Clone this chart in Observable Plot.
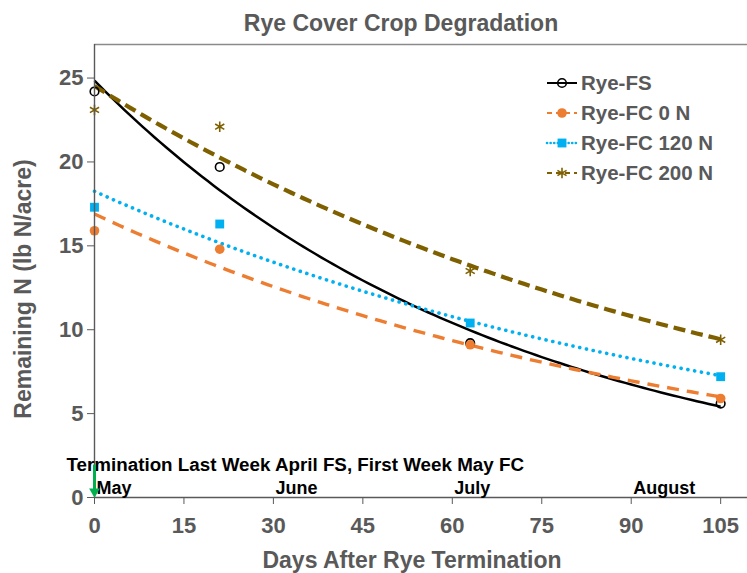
<!DOCTYPE html>
<html><head><meta charset="utf-8">
<script src="https://cdn.jsdelivr.net/npm/d3@7"></script>
<script src="https://cdn.jsdelivr.net/npm/@observablehq/plot@0.6"></script>
<style>body{margin:0;background:#fff} svg{display:block}</style>
</head><body><div id="chart"></div>
<script>
// ---- data ----
const days = [0, 21, 63, 105];
const seriesNames = ["Rye-FS", "Rye-FC 0 N", "Rye-FC 120 N", "Rye-FC 200 N"];
const ryeFS = [24.2, 19.7, 9.2, 5.6];
const ryeFC0 = [15.9, 14.8, 9.1, 5.9];
const ryeFC120 = [17.3, 16.3, 10.4, 7.2];
const ryeFC200 = [23.1, 22.1, 13.5, 9.4];
const xTicks = [0, 15, 30, 45, 60, 75, 90, 105];
const yTicks = [0, 5, 10, 15, 20, 25];
const months = ["May", "June", "July", "August"];
const monthDays = [0, 30, 60, 90];
const terminationDay = 0;
const arrowTop = 1.45;
const terminationNote = "Termination Last Week April FS, First Week May FC";
const titleText = "Rye Cover Crop Degradation";
const xLabel = "Days After Rye Termination";
const yLabel = "Remaining N (lb N/acre)";

// ---- styles ----
const FONT = "'Liberation Sans', Arial, Helvetica, sans-serif";
const GRAY = "#595959";
const styles = [
  {color: "#000000", dash: null, width: 2.5, cap: "butt", symbol: "circle", fill: "none", stroke: "#000000", r: 4.3, sw: 1.6, ldash: null},
  {color: "#ED7D31", dash: "12 8", width: 3.4, cap: "butt", symbol: "circle", fill: "#ED7D31", stroke: "none", r: 4.8, sw: 0, ldash: "5 4"},
  {color: "#00B0F0", dash: "0.1 6.8", width: 3.6, cap: "round", symbol: "square", fill: "#00B0F0", stroke: "none", r: 5, sw: 0, ldash: "0.1 3.5"},
  {color: "#7F6000", dash: "12 6", width: 4.2, cap: "butt", symbol: "asterisk", fill: "none", stroke: "#7F6000", r: 5, sw: 1.6, ldash: "5 4"}
];
const allValues = [ryeFS, ryeFC0, ryeFC120, ryeFC200];

// Excel-style exponential trendline (least squares on ln y)
function expFit(xs, ys) {
  const ly = ys.map(Math.log);
  const mx = d3.mean(xs), my = d3.mean(ly);
  let sxy = 0, sxx = 0;
  xs.forEach((x, i) => { sxy += (x - mx) * (ly[i] - my); sxx += (x - mx) ** 2; });
  const b = sxy / sxx, a = Math.exp(my - b * mx);
  return x => a * Math.exp(b * x);
}
const fitDays = d3.range(0, 105.001, 1);

const lineMarks = allValues.map((vals, i) => {
  const f = expFit(days, vals);
  const s = styles[i];
  return Plot.line(fitDays.map(d => ({day: d, n: f(d)})), {
    x: "day", y: "n", stroke: s.color, strokeWidth: s.width,
    strokeDasharray: s.dash || undefined, strokeLinecap: s.cap
  });
});
const dotMarks = allValues.map((vals, i) => {
  const s = styles[i];
  return Plot.dot(days.map((d, j) => ({day: d, n: vals[j]})), {
    x: "day", y: "n", symbol: () => s.symbol, r: s.r,
    fill: s.fill, stroke: s.stroke, strokeWidth: s.sw
  });
});

const plot = Plot.plot({
  width: 747, height: 573,
  marginTop: 44, marginLeft: 94, marginRight: 0, marginBottom: 76,
  style: {fontFamily: FONT, background: "#fff", overflow: "visible"},
  x: {domain: [0, 109.5]},
  y: {domain: [0, 27]},
  symbol: {type: "identity"},
  marks: [
    Plot.ruleY([27], {stroke: "#8a8a8a", strokeWidth: 1.6}),
    ...lineMarks,
    ...dotMarks,
    Plot.ruleY([0], {stroke: GRAY, strokeWidth: 1.4}),
    Plot.ruleX([0], {y1: 0, y2: 27, stroke: GRAY, strokeWidth: 1.4}),
    Plot.axisX({ticks: xTicks, tickSize: 7, tickPadding: 13, fontSize: 22, fontWeight: "bold", color: GRAY, label: null, tickFormat: d => String(d)}),
    Plot.axisY({ticks: yTicks, tickSize: 7, tickPadding: 4, fontSize: 22, fontWeight: "bold", color: GRAY, label: null, tickFormat: d => String(d)}),
    Plot.text(months, {x: (d, i) => monthDays[i], y: 0, dx: 2, dy: -4, text: d => d, textAnchor: "start", lineAnchor: "bottom", fontSize: 18, fontWeight: "bold", fill: "#000"}),
    Plot.text([terminationNote], {x: terminationDay, y: 0, dx: -28, dy: -27, text: d => d, textAnchor: "start", lineAnchor: "bottom", fontSize: 18.8, fontWeight: "bold", fill: "#000"}),
    Plot.ruleX([terminationDay], {y1: 0, y2: arrowTop, dy: -8, stroke: "#00B050", strokeWidth: 3}),
    Plot.dot([terminationDay], {x: d => d, y: 0, dy: -6, symbol: "triangle", rotate: 180, r: 4, fill: "#00B050", stroke: "none"}),
    Plot.text([titleText], {frameAnchor: "top", dx: -20, dy: -21, text: d => d, lineAnchor: "middle", fontSize: 23, fontWeight: "bold", fill: GRAY}),
    Plot.text([xLabel], {frameAnchor: "bottom", dx: -9, dy: 63, text: d => d, lineAnchor: "middle", fontSize: 23, fontWeight: "bold", fill: GRAY}),
    Plot.text([yLabel], {frameAnchor: "left", dx: -71, dy: 18, rotate: -90, text: d => d, lineAnchor: "middle", textAnchor: "middle", fontSize: 23, fontWeight: "bold", fill: GRAY})
  ]
});

// ---- legend (inside the plot, top right) ----
const svg = d3.select(plot);
const lg = svg.append("g").attr("font-family", FONT).attr("text-anchor", "start");
const symMap = {circle: d3.symbolCircle, square: d3.symbolSquare, asterisk: d3.symbolAsterisk};
seriesNames.forEach((name, i) => {
  const s = styles[i];
  const yy = 83 + i * 30;
  lg.append("line").attr("x1", 547).attr("x2", 577).attr("y1", yy).attr("y2", yy)
    .attr("stroke", s.color).attr("stroke-width", s.cap === "round" ? 2.6 : 2)
    .attr("stroke-linecap", s.cap).attr("stroke-dasharray", s.ldash);
  lg.append("path").attr("transform", `translate(562,${yy})`)
    .attr("d", d3.symbol(symMap[s.symbol], Math.PI * s.r * s.r)())
    .attr("fill", s.fill).attr("stroke", s.stroke).attr("stroke-width", s.sw || null);
  lg.append("text").attr("x", 581).attr("y", yy).attr("dy", "0.36em")
    .attr("text-anchor", "start")
    .attr("font-size", 20.5).attr("font-weight", "bold").attr("fill", GRAY).text(name);
});

document.getElementById("chart").appendChild(plot);
</script>
</body></html>
